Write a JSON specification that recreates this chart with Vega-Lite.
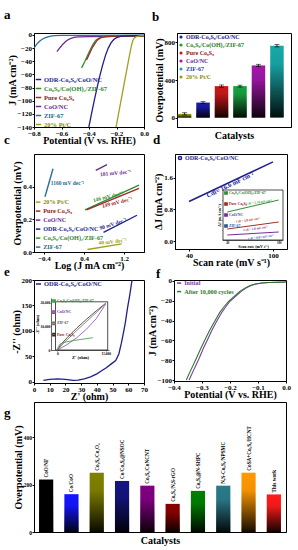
{
"$schema": "https://vega.github.io/schema/vega-lite/v6.json",
"padding": {"left": 3, "top": 8, "right": 0, "bottom": 0},
"config": {
 "font": "Liberation Serif",
 "view": {"stroke": "black", "strokeWidth": 1},
 "axis": {"grid": false, "labelFont": "Liberation Serif", "labelFontWeight": "bold", "labelFontSize": 7, "labelColor": "black", "titleFont": "Liberation Serif", "titleFontWeight": "bold", "titleFontSize": 10, "titleColor": "black", "domainColor": "black", "tickColor": "black", "tickSize": 2, "labelPadding": 0.5, "titlePadding": 0, "labelFlush": false, "labelOverlap": false},
 "axisX": {"titlePadding": -1},
 "legend": {"labelFont": "Liberation Serif", "labelFontWeight": "bold", "labelFontSize": 6.5, "padding": 0, "rowPadding": 2, "symbolStrokeWidth": 1.5, "labelOffset": 2},
 "title": {"font": "Liberation Serif", "fontWeight": "bold", "fontSize": 13, "anchor": "start", "frame": "group", "color": "black", "baseline": "alphabetic"},
 "text": {"font": "Liberation Serif", "fontWeight": "bold"}
},
"vconcat": [
 {"vconcat": [
  {"vconcat": [
   {"hconcat": [
   {"width": 110, "height": 94,
    "title": {"text": "   a", "dx": -30, "offset": 9},
    "data": {"values": [
     {"s":"ZIF-67","v":-0.8,"j":-20},{"s":"ZIF-67","v":-0.78,"j":-14},{"s":"ZIF-67","v":-0.76,"j":-9.5},{"s":"ZIF-67","v":-0.74,"j":-6.5},{"s":"ZIF-67","v":-0.72,"j":-4.3},{"s":"ZIF-67","v":-0.7,"j":-2.8},{"s":"ZIF-67","v":-0.68,"j":-1.8},{"s":"ZIF-67","v":-0.65,"j":-1.1},{"s":"ZIF-67","v":-0.6,"j":-0.7},{"s":"ZIF-67","v":-0.5,"j":-0.5},{"s":"ZIF-67","v":0,"j":-0.3},
     {"s":"CoO/NC","v":-0.633,"j":-25.5},{"s":"CoO/NC","v":-0.61,"j":-19},{"s":"CoO/NC","v":-0.59,"j":-14},{"s":"CoO/NC","v":-0.57,"j":-10},{"s":"CoO/NC","v":-0.55,"j":-7},{"s":"CoO/NC","v":-0.53,"j":-5},{"s":"CoO/NC","v":-0.51,"j":-3.8},{"s":"CoO/NC","v":-0.48,"j":-3},{"s":"CoO/NC","v":-0.4,"j":-2.5},{"s":"CoO/NC","v":-0.2,"j":-2},{"s":"CoO/NC","v":0,"j":-1.8},
     {"s":"Co₉S₈/Co(OH)₂/ZIF-67","v":-0.454,"j":-50},{"s":"Co₉S₈/Co(OH)₂/ZIF-67","v":-0.43,"j":-40},{"s":"Co₉S₈/Co(OH)₂/ZIF-67","v":-0.41,"j":-31},{"s":"Co₉S₈/Co(OH)₂/ZIF-67","v":-0.39,"j":-22},{"s":"Co₉S₈/Co(OH)₂/ZIF-67","v":-0.37,"j":-14},{"s":"Co₉S₈/Co(OH)₂/ZIF-67","v":-0.35,"j":-8},{"s":"Co₉S₈/Co(OH)₂/ZIF-67","v":-0.33,"j":-5},{"s":"Co₉S₈/Co(OH)₂/ZIF-67","v":-0.31,"j":-3.2},{"s":"Co₉S₈/Co(OH)₂/ZIF-67","v":-0.28,"j":-2.3},{"s":"Co₉S₈/Co(OH)₂/ZIF-67","v":-0.2,"j":-1.8},{"s":"Co₉S₈/Co(OH)₂/ZIF-67","v":0,"j":-1.5},
     {"s":"Pure Co₉S₈","v":-0.418,"j":-38},{"s":"Pure Co₉S₈","v":-0.4,"j":-30},{"s":"Pure Co₉S₈","v":-0.38,"j":-21},{"s":"Pure Co₉S₈","v":-0.36,"j":-14},{"s":"Pure Co₉S₈","v":-0.34,"j":-8},{"s":"Pure Co₉S₈","v":-0.32,"j":-5},{"s":"Pure Co₉S₈","v":-0.3,"j":-3.2},{"s":"Pure Co₉S₈","v":-0.27,"j":-2.3},{"s":"Pure Co₉S₈","v":-0.2,"j":-1.8},{"s":"Pure Co₉S₈","v":0,"j":-1.5},
     {"s":"ODR-Co₉S₈/CoO/NC","v":-0.401,"j":-140},{"s":"ODR-Co₉S₈/CoO/NC","v":-0.38,"j":-118},{"s":"ODR-Co₉S₈/CoO/NC","v":-0.36,"j":-98},{"s":"ODR-Co₉S₈/CoO/NC","v":-0.34,"j":-79},{"s":"ODR-Co₉S₈/CoO/NC","v":-0.32,"j":-61},{"s":"ODR-Co₉S₈/CoO/NC","v":-0.3,"j":-45},{"s":"ODR-Co₉S₈/CoO/NC","v":-0.28,"j":-31},{"s":"ODR-Co₉S₈/CoO/NC","v":-0.26,"j":-20},{"s":"ODR-Co₉S₈/CoO/NC","v":-0.24,"j":-12},{"s":"ODR-Co₉S₈/CoO/NC","v":-0.22,"j":-7},{"s":"ODR-Co₉S₈/CoO/NC","v":-0.2,"j":-4},{"s":"ODR-Co₉S₈/CoO/NC","v":-0.17,"j":-2.2},{"s":"ODR-Co₉S₈/CoO/NC","v":-0.13,"j":-1.4},{"s":"ODR-Co₉S₈/CoO/NC","v":-0.08,"j":-1},{"s":"ODR-Co₉S₈/CoO/NC","v":0,"j":-0.6},
     {"s":"20% Pt/C","v":-0.203,"j":-140},{"s":"20% Pt/C","v":-0.18,"j":-114},{"s":"20% Pt/C","v":-0.16,"j":-92},{"s":"20% Pt/C","v":-0.14,"j":-69},{"s":"20% Pt/C","v":-0.12,"j":-47},{"s":"20% Pt/C","v":-0.1,"j":-25},{"s":"20% Pt/C","v":-0.09,"j":-15},{"s":"20% Pt/C","v":-0.08,"j":-8},{"s":"20% Pt/C","v":-0.07,"j":-4.5},{"s":"20% Pt/C","v":-0.05,"j":-2},{"s":"20% Pt/C","v":-0.02,"j":-1},{"s":"20% Pt/C","v":0,"j":-0.5}
    ]},
    "mark": {"type": "line", "strokeWidth": 1.3, "clip": true},
    "encoding": {
     "x": {"field": "v", "type": "quantitative", "scale": {"domain": [-0.8, 0]}, "axis": {"title": "Potential (V vs. RHE)", "values": [-0.8, -0.6, -0.4, -0.2, 0], "format": ".1f"}},
     "y": {"field": "j", "type": "quantitative", "scale": {"domain": [-140, 3]}, "axis": {"title": "J (mA cm⁻²)", "values": [-140, -120, -100, -80, -60, -40, -20, 0]}},
     "color": {"field": "s", "type": "nominal",
      "scale": {"domain": ["ODR-Co₉S₈/CoO/NC","Co₉S₈/Co(OH)₂/ZIF-67","Pure Co₉S₈","CoO/NC","ZIF-67","20% Pt/C"], "range": ["#1f1f8f","#2f8f2f","#a02828","#6a2a90","#2a7090","#a0a020"]},
      "legend": {"title": null, "orient": "none", "legendX": 1, "legendY": 43, "symbolType": "stroke", "symbolSize": 30,
       "labelColor": {"expr": "['#1f1f8f','#2f7f2f','#8b1a1a','#6a2a90','#1a6a8a','#8a8a10'][indexof(['ODR-Co₉S₈/CoO/NC','Co₉S₈/Co(OH)₂/ZIF-67','Pure Co₉S₈','CoO/NC','ZIF-67','20% Pt/C'], datum.value)]"}}}
    }
   },
   {"width": 114, "height": 94,
    "title": {"text": "b", "dx": -25, "offset": 9},
    "data": {"values": [
     {"n":"20% Pt/C","val":40,"lo":28,"hi":52},{"n":"ODR-Co₉S₈/CoO/NC","val":160,"lo":150,"hi":170},{"n":"Pure Co₉S₈","val":335,"lo":323,"hi":347},{"n":"Co₉S₈/Co(OH)₂/ZIF-67","val":335,"lo":325,"hi":345},{"n":"CoO/NC","val":555,"lo":543,"hi":567},{"n":"ZIF-67","val":765,"lo":752,"hi":778}
    ]},
    "encoding": {"x": {"field": "n", "type": "nominal", "sort": ["20% Pt/C","ODR-Co₉S₈/CoO/NC","Pure Co₉S₈","Co₉S₈/Co(OH)₂/ZIF-67","CoO/NC","ZIF-67"], "scale": {"paddingInner": 0.27, "paddingOuter": 0.22, "align": 0.1}, "axis": {"title": "Catalysts", "labels": false, "ticks": false, "titlePadding": 3}}},
    "layer": [
     {"mark": "bar", "encoding": {
      "y": {"field": "val", "type": "quantitative", "scale": {"domain": [-40, 830]}, "axis": {"title": "Overpotential (mV)", "values": [0, 200, 400, 600, 800]}},
      "color": {"field": "n", "type": "nominal", "scale": {"domain": ["ODR-Co₉S₈/CoO/NC","Co₉S₈/Co(OH)₂/ZIF-67","Pure Co₉S₈","CoO/NC","ZIF-67","20% Pt/C"], "range": ["#1a1aa8","#18a040","#c81818","#a018a8","#18a8a8","#9a9a12"]},
       "legend": {"title": null, "orient": "none", "legendX": 1, "legendY": 1, "symbolType": "circle", "symbolSize": 10, "labelFontSize": 6,
        "labelColor": {"expr": "['#1a1a8c','#2a7a2a','#8b1a1a','#5a2a9a','#2a4aaa','#8a8a10'][indexof(['ODR-Co₉S₈/CoO/NC','Co₉S₈/Co(OH)₂/ZIF-67','Pure Co₉S₈','CoO/NC','ZIF-67','20% Pt/C'], datum.value)]"}}}}},
     {"mark": {"type": "bar", "fill": {"gradient": "linear", "x1": 0, "y1": 0, "x2": 0, "y2": 1, "stops": [{"offset": 0, "color": "rgba(0,0,0,0)"}, {"offset": 0.25, "color": "rgba(0,0,0,0.05)"}, {"offset": 1, "color": "rgba(0,0,0,0.92)"}]}}, "encoding": {"y": {"field": "val", "type": "quantitative"}}},
     {"mark": {"type": "rule", "color": "black", "strokeWidth": 0.8}, "encoding": {"y": {"field": "lo", "type": "quantitative"}, "y2": {"field": "hi"}}},
     {"mark": {"type": "tick", "color": "black", "thickness": 0.8, "size": 5}, "encoding": {"y": {"field": "hi", "type": "quantitative"}}},
     {"mark": {"type": "tick", "color": "black", "thickness": 0.8, "size": 5}, "encoding": {"y": {"field": "lo", "type": "quantitative"}}}
    ]
   }
   ], "spacing": 33, "bounds": "flush", "resolve": {"scale": {"color": "independent"}, "legend": {"color": "independent"}}},
   {"hconcat": [
   {"width": 110, "height": 98,
    "title": {"text": "   c", "dx": -30, "offset": 7},
    "layer": [
     {"data": {"values": [
      {"s":"ZIF-67","lg":-0.38,"eta":0.338},{"s":"ZIF-67","lg":-0.22,"eta":0.51},
      {"s":"CoO/NC","lg":0.635,"eta":0.5},{"s":"CoO/NC","lg":0.86,"eta":0.535},
      {"s":"Co₉S₈/Co(OH)₂/ZIF-67","lg":0.42,"eta":0.258},{"s":"Co₉S₈/Co(OH)₂/ZIF-67","lg":1.5,"eta":0.41},
      {"s":"Pure Co₉S₈","lg":0.45,"eta":0.258},{"s":"Pure Co₉S₈","lg":1.5,"eta":0.39},
      {"s":"ODR-Co₉S₈/CoO/NC","lg":0.79,"eta":0.12},{"s":"ODR-Co₉S₈/CoO/NC","lg":1.46,"eta":0.225},
      {"s":"20% Pt/C","lg":0.47,"eta":0.015},{"s":"20% Pt/C","lg":1.15,"eta":0.05}
     ]},
      "mark": {"type": "line", "strokeWidth": 1.4},
      "encoding": {
       "x": {"field": "lg", "type": "quantitative", "scale": {"domain": [-0.48, 1.6]}, "axis": {"title": "Log (J mA cm⁻²)", "values": [-0.4, 0, 0.4, 0.8, 1.2, 1.6], "format": ".1f"}},
       "y": {"field": "eta", "type": "quantitative", "scale": {"domain": [0, 0.56]}, "axis": {"title": "Overpotential (mV)", "values": [0, 0.1, 0.2, 0.3, 0.4, 0.5], "format": ".1f"}},
       "color": {"field": "s", "type": "nominal", "scale": {"domain": ["20% Pt/C","Pure Co₉S₈","CoO/NC","ODR-Co₉S₈/CoO/NC","Co₉S₈/Co(OH)₂/ZIF-67","ZIF-67"], "range": ["#a0a020","#a02828","#6a2a90","#1f1f8f","#2f8f2f","#2a7090"]},
        "legend": {"title": null, "orient": "none", "legendX": 1, "legendY": 45, "symbolType": "stroke", "symbolSize": 20, "labelFontSize": 6.2,
         "labelColor": {"expr": "['#8a8a10','#8b1a1a','#6a2a90','#1f1f8f','#2f7f2f','#1a6a8a'][indexof(['20% Pt/C','Pure Co₉S₈','CoO/NC','ODR-Co₉S₈/CoO/NC','Co₉S₈/Co(OH)₂/ZIF-67','ZIF-67'], datum.value)]"}}}
      }},
     {"data": {"values": [
      {"t":"1160 mV dec⁻¹","s":"ZIF-67","lg":0.07,"eta":0.42,"a":0},
      {"t":"181 mV dec⁻¹","s":"CoO/NC","lg":1.03,"eta":0.485,"a":-5},
      {"t":"146 mV dec⁻¹","s":"Co₉S₈/Co(OH)₂/ZIF-67","lg":0.88,"eta":0.34,"a":-14},
      {"t":"149 mV dec⁻¹","s":"Pure Co₉S₈","lg":1.06,"eta":0.305,"a":-14},
      {"t":"90 mV dec⁻¹","s":"ODR-Co₉S₈/CoO/NC","lg":0.98,"eta":0.173,"a":-18},
      {"t":"40 mV dec⁻¹","s":"20% Pt/C","lg":0.97,"eta":0.065,"a":-6}
     ]},
      "mark": {"type": "text", "fontSize": 5.5},
      "encoding": {
       "x": {"field": "lg", "type": "quantitative"},
       "y": {"field": "eta", "type": "quantitative"},
       "text": {"field": "t"},
       "angle": {"field": "a", "type": "quantitative", "scale": null},
       "color": {"field": "s", "type": "nominal", "legend": null}
      }}
    ]
   },
   {"width": 112, "height": 95,
    "title": {"text": "d", "dx": -22, "offset": 7},
    "layer": [
     {"layer": [
      {"data": {"values": [{"s":"ODR-Co₉S₈/CoO/NC","r":40,"dj":1.0},{"s":"ODR-Co₉S₈/CoO/NC","r":100,"dj":2.0}]},
       "mark": {"type": "line", "strokeWidth": 1.5},
       "encoding": {
        "x": {"field": "r", "type": "quantitative", "scale": {"domain": [35, 107]}, "axis": {"title": "Scan rate (mV s⁻¹)", "values": [40, 50, 60, 70, 80, 90, 100]}},
        "y": {"field": "dj", "type": "quantitative", "scale": {"domain": [-0.04, 2.09]}, "axis": {"title": "ΔJ (mA cm⁻²)", "values": [0, 0.4, 0.8, 1.2, 1.6, 2.0], "format": ".1f"}},
        "color": {"field": "s", "type": "nominal", "scale": {"domain": ["ODR-Co₉S₈/CoO/NC"], "range": ["#1f1f8f"]},
         "legend": {"title": null, "orient": "none", "legendX": 2, "legendY": 1, "symbolType": "circle", "symbolSize": 10, "labelFontSize": 6, "labelColor": "#1f1f8f"}}
       }},
      {"data": {"values": [{"t":"Cdl= 16.6 mF cm⁻²","r":69.4,"dj":1.42}]},
       "mark": {"type": "text", "fontSize": 6.5, "angle": -25.6, "color": "#1f1f8f"},
       "encoding": {"x": {"field": "r", "type": "quantitative"}, "y": {"field": "dj", "type": "quantitative"}, "text": {"field": "t"}}}
     ]},
     {"layer": [
      {"data": {"values": [{}]},
       "mark": {"type": "rect", "fill": "white", "stroke": "black", "strokeWidth": 0.7},
       "encoding": {
        "x": {"datum": 35, "type": "quantitative", "scale": {"domain": [35, 105], "range": [48, 108]}, "axis": {"orient": "bottom", "offset": -9, "values": [40, 50, 60, 70, 80, 90, 100], "labelFontSize": 3, "tickSize": 1, "labelPadding": 0, "title": "Scan rate (mV s⁻¹)", "titleFontSize": 4, "titlePadding": 0, "domainWidth": 0.6, "tickWidth": 0.5}},
        "x2": {"datum": 105},
        "y": {"datum": 0, "type": "quantitative", "scale": {"domain": [0, 1], "range": [86, 36]}, "axis": {"orient": "left", "offset": -48, "labels": false, "tickCount": 5, "tickSize": 1, "title": "ΔJ (mA cm⁻²)", "titleFontSize": 4, "titlePadding": 0.5, "domainWidth": 0.6, "tickWidth": 0.5}},
        "y2": {"datum": 1}
       }},
      {"data": {"values": [
       {"s":"Co₉S₈/Co(OH)₂/ZIF-67","r2":40,"d2":0.56},{"s":"Co₉S₈/Co(OH)₂/ZIF-67","r2":100,"d2":0.8},
       {"s":"Pure Co₉S₈","r2":40,"d2":0.22},{"s":"Pure Co₉S₈","r2":100,"d2":0.36},
       {"s":"CoO/NC","r2":40,"d2":0.1},{"s":"CoO/NC","r2":100,"d2":0.16}
      ]},
       "mark": {"type": "line", "strokeWidth": 1},
       "encoding": {
        "x": {"field": "r2", "type": "quantitative"},
        "y": {"field": "d2", "type": "quantitative"},
        "color": {"field": "s", "type": "nominal", "scale": {"domain": ["Co₉S₈/Co(OH)₂/ZIF-67","Pure Co₉S₈","CoO/NC","ZIF-67"], "range": ["#2f8f2f","#a03020","#7a2a9a","#2a5aaa"]},
         "legend": {"title": null, "orient": "none", "legendX": 49, "legendY": 37, "symbolType": "square", "symbolSize": 5, "labelFontSize": 3.8, "rowPadding": 1, "labelOffset": 1,
          "labelColor": {"expr": "['#2f7f2f','#8b1a1a','#4a3a9a','#2a5aaa'][indexof(['Co₉S₈/Co(OH)₂/ZIF-67','Pure Co₉S₈','CoO/NC','ZIF-67'], datum.value)]"}}}
       }},
      {"data": {"values": [
       {"t":"Cdl = 5.76 mF cm⁻²","s":"Co₉S₈/Co(OH)₂/ZIF-67","r2":77,"d2":0.76},
       {"t":"Cdl = 3.8 mF cm⁻²","s":"Pure Co₉S₈","r2":64,"d2":0.4},
       {"t":"Cdl = 1.8 mF cm⁻²","s":"CoO/NC","r2":73,"d2":0.23},
       {"t":"Cdl = 0.87 mF cm⁻²","s":"ZIF-67","r2":79,"d2":0.06}
      ]},
       "mark": {"type": "text", "fontSize": 3.2, "angle": -8},
       "encoding": {"x": {"field": "r2", "type": "quantitative"}, "y": {"field": "d2", "type": "quantitative"}, "text": {"field": "t"}, "color": {"field": "s", "type": "nominal", "legend": null}}}
     ]}
    ],
    "resolve": {"scale": {"x": "independent", "y": "independent", "color": "independent"}, "axis": {"x": "independent", "y": "independent"}, "legend": {"color": "independent"}}
   }
   ], "spacing": 31, "bounds": "flush", "resolve": {"scale": {"color": "independent"}, "legend": {"color": "independent"}}}
  ], "spacing": -13, "resolve": {"scale": {"color": "independent"}, "legend": {"color": "independent"}}},
  {"hconcat": [
   {"width": 110, "height": 103,
    "title": {"text": "e", "dx": -30, "offset": -3},
    "layer": [
     {"data": {"values": [
      {"s":"ODR-Co₉S₈/CoO/NC","zr":6,"zi":3},{"s":"ODR-Co₉S₈/CoO/NC","zr":10,"zi":5},{"s":"ODR-Co₉S₈/CoO/NC","zr":15,"zi":6},{"s":"ODR-Co₉S₈/CoO/NC","zr":20,"zi":5},{"s":"ODR-Co₉S₈/CoO/NC","zr":25,"zi":3},{"s":"ODR-Co₉S₈/CoO/NC","zr":28,"zi":3.5},{"s":"ODR-Co₉S₈/CoO/NC","zr":32,"zi":6},{"s":"ODR-Co₉S₈/CoO/NC","zr":36,"zi":10},{"s":"ODR-Co₉S₈/CoO/NC","zr":40,"zi":16},{"s":"ODR-Co₉S₈/CoO/NC","zr":43,"zi":22},{"s":"ODR-Co₉S₈/CoO/NC","zr":46,"zi":28},{"s":"ODR-Co₉S₈/CoO/NC","zr":49,"zi":35},{"s":"ODR-Co₉S₈/CoO/NC","zr":52,"zi":42},{"s":"ODR-Co₉S₈/CoO/NC","zr":54,"zi":55},{"s":"ODR-Co₉S₈/CoO/NC","zr":55.6,"zi":76},{"s":"ODR-Co₉S₈/CoO/NC","zr":57,"zi":98},{"s":"ODR-Co₉S₈/CoO/NC","zr":58.1,"zi":116},{"s":"ODR-Co₉S₈/CoO/NC","zr":59.5,"zi":145},{"s":"ODR-Co₉S₈/CoO/NC","zr":60.9,"zi":170},{"s":"ODR-Co₉S₈/CoO/NC","zr":62.4,"zi":200}
     ]},
      "mark": {"type": "line", "strokeWidth": 1.3, "clip": true},
      "encoding": {
       "x": {"field": "zr", "type": "quantitative", "scale": {"domain": [0, 70]}, "axis": {"title": "Z' (ohm)", "values": [0, 10, 20, 30, 40, 50, 60, 70]}},
       "y": {"field": "zi", "type": "quantitative", "scale": {"domain": [-2, 200]}, "axis": {"title": "-Z'' (ohm)", "values": [0, 50, 100, 150, 200]}},
       "color": {"field": "s", "type": "nominal", "scale": {"domain": ["ODR-Co₉S₈/CoO/NC"], "range": ["#1f1f8f"]},
        "legend": {"title": null, "orient": "none", "legendX": 1, "legendY": 0.5, "symbolType": "stroke", "symbolSize": 25, "labelFontSize": 6.5, "labelColor": "#1f1f8f"}}
      }},
     {"layer": [
      {"data": {"values": [{}]},
       "mark": {"type": "rect", "fill": "white", "stroke": "black", "strokeWidth": 0.7},
       "encoding": {
        "x": {"datum": -600, "type": "quantitative", "scale": {"domain": [-600, 15600], "range": [17, 75]}, "axis": {"orient": "bottom", "offset": -33, "values": [0, 5000, 10000, 15000], "labelFontSize": 3.5, "tickSize": 1, "labelPadding": 0, "title": "Z' (ohm)", "titleFontSize": 4.5, "titlePadding": 0, "domainWidth": 0.6, "tickWidth": 0.5}},
        "x2": {"datum": 15600},
        "y": {"datum": 0, "type": "quantitative", "scale": {"domain": [0, 20400], "range": [70, 18]}, "axis": {"orient": "left", "offset": -17, "values": [0, 5000, 10000, 15000, 20000], "labelFontSize": 3.5, "tickSize": 1, "labelPadding": 0.3, "title": "-Z'' (ohm)", "titleFontSize": 4.5, "titlePadding": 0.3, "domainWidth": 0.6, "tickWidth": 0.5}},
        "y2": {"datum": 20400}
       }},
      {"data": {"values": [
       {"s":"Pure Co₉S₈","a":0,"b":0},{"s":"Pure Co₉S₈","a":1000,"b":2200},{"s":"Pure Co₉S₈","a":3000,"b":5200},{"s":"Pure Co₉S₈","a":6000,"b":9300},{"s":"Pure Co₉S₈","a":9000,"b":13000},{"s":"Pure Co₉S₈","a":12000,"b":16500},{"s":"Pure Co₉S₈","a":15000,"b":19800},
       {"s":"ZIF-67","a":0,"b":0},{"s":"ZIF-67","a":2000,"b":3000},{"s":"ZIF-67","a":5000,"b":7000},{"s":"ZIF-67","a":8000,"b":10800},{"s":"ZIF-67","a":11000,"b":14500},{"s":"ZIF-67","a":14500,"b":19000},
       {"s":"CoO/NC","a":0,"b":0},{"s":"CoO/NC","a":3000,"b":2300},{"s":"CoO/NC","a":6000,"b":5200},{"s":"CoO/NC","a":9000,"b":8800},{"s":"CoO/NC","a":12000,"b":13200},{"s":"CoO/NC","a":15000,"b":19500},
       {"s":"Co₉S₈/Co(OH)₂/ZIF-67","a":0,"b":0},{"s":"Co₉S₈/Co(OH)₂/ZIF-67","a":300,"b":1500},{"s":"Co₉S₈/Co(OH)₂/ZIF-67","a":800,"b":2500},{"s":"Co₉S₈/Co(OH)₂/ZIF-67","a":2000,"b":3200},{"s":"Co₉S₈/Co(OH)₂/ZIF-67","a":5000,"b":4000},{"s":"Co₉S₈/Co(OH)₂/ZIF-67","a":8000,"b":4600},{"s":"Co₉S₈/Co(OH)₂/ZIF-67","a":11000,"b":5200}
      ]},
       "mark": {"type": "line", "strokeWidth": 0.8},
       "encoding": {
        "x": {"field": "a", "type": "quantitative"},
        "y": {"field": "b", "type": "quantitative"},
        "color": {"field": "s", "type": "nominal", "scale": {"domain": ["Co₉S₈/Co(OH)₂/ZIF-67","CoO/NC","ZIF-67","Pure Co₉S₈"], "range": ["#3a9a3a","#8a4aa8","#707070","#3a2a20"]},
         "legend": {"title": null, "orient": "none", "legendX": 18, "legendY": 19, "symbolType": "square", "symbolSize": 5, "labelFontSize": 3.8, "rowPadding": 1.2, "labelOffset": 1,
          "labelColor": {"expr": "['#2f7f2f','#6a2a90','#555555','#8b1a1a'][indexof(['Co₉S₈/Co(OH)₂/ZIF-67','CoO/NC','ZIF-67','Pure Co₉S₈'], datum.value)]"}}}
       }}
     ]}
    ],
    "resolve": {"scale": {"x": "independent", "y": "independent", "color": "independent"}, "axis": {"x": "independent", "y": "independent"}, "legend": {"color": "independent"}}
   },
   {"width": 112, "height": 101,
    "title": {"text": "f", "dx": -18, "offset": -4},
    "data": {"values": [
     {"s":"Initial","p":-0.346,"j":-100},{"s":"Initial","p":-0.33,"j":-90},{"s":"Initial","p":-0.31,"j":-78},{"s":"Initial","p":-0.295,"j":-68},{"s":"Initial","p":-0.28,"j":-59},{"s":"Initial","p":-0.265,"j":-50},{"s":"Initial","p":-0.25,"j":-42},{"s":"Initial","p":-0.23,"j":-32},{"s":"Initial","p":-0.215,"j":-26},{"s":"Initial","p":-0.2,"j":-20.5},{"s":"Initial","p":-0.18,"j":-15.5},{"s":"Initial","p":-0.16,"j":-10.5},{"s":"Initial","p":-0.143,"j":-7.2},{"s":"Initial","p":-0.125,"j":-4.6},{"s":"Initial","p":-0.107,"j":-3},{"s":"Initial","p":-0.085,"j":-2},{"s":"Initial","p":-0.06,"j":-1.5},{"s":"Initial","p":-0.03,"j":-1.2},{"s":"Initial","p":0,"j":-1},
     {"s":"After 10,000 cycles","p":-0.356,"j":-100},{"s":"After 10,000 cycles","p":-0.34,"j":-90},{"s":"After 10,000 cycles","p":-0.32,"j":-78},{"s":"After 10,000 cycles","p":-0.304,"j":-68},{"s":"After 10,000 cycles","p":-0.289,"j":-59},{"s":"After 10,000 cycles","p":-0.273,"j":-50},{"s":"After 10,000 cycles","p":-0.257,"j":-42},{"s":"After 10,000 cycles","p":-0.237,"j":-32},{"s":"After 10,000 cycles","p":-0.221,"j":-26},{"s":"After 10,000 cycles","p":-0.205,"j":-20.5},{"s":"After 10,000 cycles","p":-0.185,"j":-15.5},{"s":"After 10,000 cycles","p":-0.165,"j":-10.5},{"s":"After 10,000 cycles","p":-0.147,"j":-7.2},{"s":"After 10,000 cycles","p":-0.128,"j":-4.6},{"s":"After 10,000 cycles","p":-0.11,"j":-3},{"s":"After 10,000 cycles","p":-0.087,"j":-2},{"s":"After 10,000 cycles","p":-0.062,"j":-1.5},{"s":"After 10,000 cycles","p":-0.03,"j":-1.2},{"s":"After 10,000 cycles","p":0,"j":-1}
    ]},
    "mark": {"type": "line", "strokeWidth": 1.1, "clip": true},
    "encoding": {
     "x": {"field": "p", "type": "quantitative", "scale": {"domain": [-0.4, 0]}, "axis": {"title": "Potential (V vs. RHE)", "values": [-0.4, -0.3, -0.2, -0.1, 0], "format": ".1f"}},
     "y": {"field": "j", "type": "quantitative", "scale": {"domain": [-101, 1]}, "axis": {"title": "J (mA cm⁻²)", "values": [-100, -80, -60, -40, -20, 0]}},
     "color": {"field": "s", "type": "nominal", "scale": {"domain": ["Initial", "After 10,000 cycles"], "range": ["#7a3aa0", "#2a7a2a"]},
      "legend": {"title": null, "orient": "none", "legendX": 2, "legendY": 0, "symbolType": "stroke", "symbolSize": 16, "labelFontSize": 6.2, "rowPadding": 1.5,
       "labelColor": {"expr": "datum.value === 'Initial' ? '#7a3aa0' : '#2a7a2a'"}}}
    }
   }
  ], "spacing": 30, "bounds": "flush", "resolve": {"scale": {"color": "independent"}, "legend": {"color": "independent"}}}
 ], "spacing": -6, "resolve": {"scale": {"color": "independent"}, "legend": {"color": "independent"}}},
 {"width": 252, "height": 130,
  "title": {"text": "g", "dx": -30, "offset": -18},
  "data": {"values": [
   {"n":"CoO/NF","val":222},{"n":"Co/CoO","val":160},{"n":"Co₉S₈/Co₃O₄","val":251},{"n":"Co/Co₉S₈@NSOC","val":216},{"n":"Co₉S₈/CoNCNT","val":196},{"n":"Co₉S₈/N,S-rGO","val":119},{"n":"Co₉S₈@N-SHPC","val":174},{"n":"N,S-Co₉S₈/NPSMC","val":196},{"n":"CoSA+Co₉S₈/HCNT","val":251},{"n":"This work","val":159}
  ]},
  "encoding": {"x": {"field": "n", "type": "nominal", "sort": null, "scale": {"paddingInner": 0.44, "paddingOuter": 0.2}, "axis": {"title": "Catalysts", "labels": false, "ticks": false, "titlePadding": 3}}},
  "layer": [
   {"mark": "bar", "encoding": {
    "y": {"field": "val", "type": "quantitative", "scale": {"domain": [0, 503]}, "axis": {"title": "Overpotential (mV)", "values": [0, 200, 400], "labelFontSize": 5.5}},
    "color": {"field": "n", "type": "nominal", "sort": null, "scale": {"domain": ["CoO/NF","Co/CoO","Co₉S₈/Co₃O₄","Co/Co₉S₈@NSOC","Co₉S₈/CoNCNT","Co₉S₈/N,S-rGO","Co₉S₈@N-SHPC","N,S-Co₉S₈/NPSMC","CoSA+Co₉S₈/HCNT","This work"], "range": ["#000000","#1414ff","#808000","#141480","#800080","#8b0000","#008000","#2a7a8a","#ff9900","#ff1a1a"]}, "legend": null}}},
   {"mark": {"type": "bar", "fill": {"gradient": "linear", "x1": 0, "y1": 0, "x2": 0, "y2": 1, "stops": [{"offset": 0, "color": "rgba(0,0,0,0)"}, {"offset": 0.3, "color": "rgba(0,0,0,0.05)"}, {"offset": 1, "color": "rgba(0,0,0,0.92)"}]}}, "encoding": {"y": {"field": "val", "type": "quantitative"}}},
   {"mark": {"type": "text", "angle": 270, "align": "left", "baseline": "middle", "dx": 2, "fontSize": 5.2, "color": "black"}, "encoding": {"y": {"field": "val", "type": "quantitative"}, "text": {"field": "n"}}}
  ]
 }
],
"spacing": -1,
"resolve": {"scale": {"color": "independent"}, "legend": {"color": "independent"}}
}
